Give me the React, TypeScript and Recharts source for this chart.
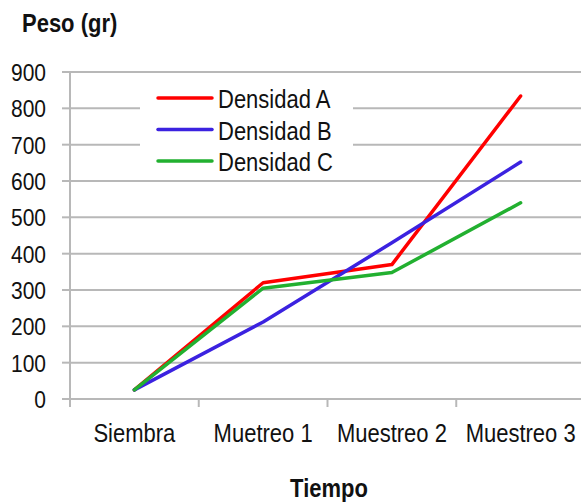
import React from "react"
import { LineChart, Line, XAxis, YAxis, CartesianGrid, Legend } from "recharts"

const categories = ["Siembra", "Muetreo 1", "Muestreo 2", "Muestreo 3"]
const densidadA = [25, 320, 370, 834]
const densidadB = [25, 212, 430, 652]
const densidadC = [25, 305, 348, 540]
const yTicks = [0, 100, 200, 300, 400, 500, 600, 700, 800, 900]

const seriesNames = ["Densidad A", "Densidad B", "Densidad C"]
const colors = ["#ff0000", "#3b22e0", "#22b030"]

const data = categories.map((c, i) => ({
  name: c,
  "Densidad A": densidadA[i],
  "Densidad B": densidadB[i],
  "Densidad C": densidadC[i],
}))

const FONT = "'Liberation Sans', Arial, sans-serif"
const STRETCH = 1.18
const grid = "#b8b8b8"
const CHART_W = 585
const LEFT = 70

// category ticks sit on the band edges, labels in the middle
function XTick(props: any) {
  const { x, payload } = props
  const half = (CHART_W - LEFT) / categories.length / 2
  return (
    <g>
      <line x1={x - half} x2={x - half} y1={399} y2={407} stroke={grid} strokeWidth={2} />
      {payload.index === categories.length - 1 && (
        <line x1={x + half} x2={x + half} y1={399} y2={407} stroke={grid} strokeWidth={2} />
      )}
      <g transform={`translate(${x},442)`}>
        <text x={0} y={0} textAnchor="middle" fontFamily={FONT} fontSize={22} fill="#111" transform={`scale(1,${STRETCH})`}>
          {payload.value}
        </text>
      </g>
    </g>
  )
}

function YTick(props: any) {
  const { y, payload } = props
  return (
    <g transform={`translate(46,${y + 9})`}>
      <text x={0} y={0} textAnchor="end" fontFamily={FONT} fontSize={21} fill="#111" transform={`scale(1,${STRETCH})`}>
        {payload.value}
      </text>
    </g>
  )
}

function LegendBox() {
  return (
    <svg width={213} height={96} style={{ display: "block" }}>
      <rect x={0} y={0} width={213} height={96} fill="#fff" />
      {seriesNames.map((s, i) => (
        <g key={s}>
          <line x1={18} x2={72} y1={18 + i * 31.5} y2={18 + i * 31.5} stroke={colors[i]} strokeWidth={3.5} strokeLinecap="round" />
          <g transform={`translate(78,${28 + i * 31.5})`}>
            <text x={0} y={0} fontFamily={FONT} fontSize={22} fill="#111" transform={`scale(1,${STRETCH})`}>
              {s}
            </text>
          </g>
        </g>
      ))}
    </svg>
  )
}

export default function App() {
  return (
    <div style={{ position: "absolute", left: 0, top: 0, width: 581, height: 504, overflow: "hidden", background: "#fff" }}>
      <LineChart width={CHART_W} height={504} data={data} margin={{ top: 72, right: 0, left: 0, bottom: 0 }}>
        <CartesianGrid vertical={false} stroke={grid} strokeWidth={2} />
        <XAxis
          dataKey="name"
          scale="band"
          height={105}
          interval={0}
          tickSize={8}
          tickLine={false}
          axisLine={{ stroke: grid, strokeWidth: 2 }}
          tick={<XTick />}
        />
        <YAxis
          width={LEFT}
          domain={[0, 900]}
          ticks={yTicks}
          interval={0}
          tickSize={8}
          tickLine={{ stroke: grid, strokeWidth: 2 }}
          axisLine={{ stroke: grid, strokeWidth: 2 }}
          tick={<YTick />}
        />
        <Legend
          layout="vertical"
          align="center"
          verticalAlign="middle"
          wrapperStyle={{ left: 140, top: 80, width: 213 }}
          content={() => <LegendBox />}
        />
        {seriesNames.map((s, i) => (
          <Line
            key={s}
            type="linear"
            dataKey={s}
            stroke={colors[i]}
            strokeWidth={3.5}
            strokeLinecap="round"
            strokeLinejoin="round"
            dot={false}
            activeDot={false}
            isAnimationActive={false}
          />
        ))}
        <text x={22} y={32} fontFamily={FONT} fontSize={22} fontWeight="bold" fill="#111" transform={`translate(0,${32 - 32 * STRETCH}) scale(1,${STRETCH})`}>
          Peso (gr)
        </text>
        <text x={329} y={497} textAnchor="middle" fontFamily={FONT} fontSize={22} fontWeight="bold" fill="#111" transform={`translate(0,${497 - 497 * STRETCH}) scale(1,${STRETCH})`}>
          Tiempo
        </text>
      </LineChart>
    </div>
  )
}
